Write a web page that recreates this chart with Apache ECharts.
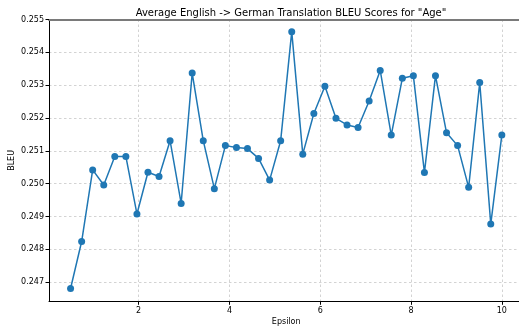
<!DOCTYPE html>
<html><head><meta charset="utf-8">
<script src="https://cdn.jsdelivr.net/npm/echarts@6/dist/echarts.min.js"></script>
<style>html,body{margin:0;padding:0;background:#fff}#c{width:519px;height:330px}</style>
</head><body><div id="c"></div>
<script>
const epsilon = [0.5, 0.744, 0.987, 1.231, 1.474, 1.718, 1.962, 2.205, 2.449, 2.692,
  2.936, 3.179, 3.423, 3.667, 3.910, 4.154, 4.397, 4.641, 4.885, 5.128,
  5.372, 5.615, 5.859, 6.103, 6.346, 6.590, 6.833, 7.077, 7.321, 7.564,
  7.808, 8.051, 8.295, 8.538, 8.782, 9.026, 9.269, 9.513, 9.756, 10.0];
const bleu = [0.24681, 0.24824, 0.25042, 0.24996, 0.25083, 0.25083, 0.24908, 0.25035, 0.25022, 0.25131,
  0.24940, 0.25337, 0.25131, 0.24985, 0.25116, 0.25110, 0.25107, 0.25077, 0.25011, 0.25131,
  0.25463, 0.25090, 0.25214, 0.25297, 0.25199, 0.25179, 0.25171, 0.25252, 0.25345, 0.25148,
  0.25321, 0.25329, 0.25034, 0.25329, 0.25155, 0.25116, 0.24989, 0.25308, 0.24877, 0.25148];
const xTicks = [2, 4, 6, 8, 10];
const yTicks = [0.247, 0.248, 0.249, 0.250, 0.251, 0.252, 0.253, 0.254, 0.255];
const titleText = 'Average English -> German Translation BLEU Scores for "Age"';

const font = 'DejaVu Sans';
const gridLine = {show: true, lineStyle: {color: '#c8c8c8', type: [2.5, 2.5], width: 0.8}};
const chart = echarts.init(document.getElementById('c'), null, {renderer: 'canvas'});
chart.setOption({
  animation: false,
  title: {text: titleText, left: 286, top: 3, textAlign: 'center',
    textStyle: {fontFamily: font, fontSize: 10, fontWeight: 'normal', color: '#000'}},
  grid: {left: 49, top: 19.5, width: 474.4, height: 281.8, containLabel: false, outerBoundsMode: 'none'},
  xAxis: [{
    type: 'value', min: 0.025, max: 10.475,
    name: 'Epsilon', nameLocation: 'middle', nameGap: 17, nameMoveOverlap: false,
    nameTextStyle: {fontFamily: font, fontSize: 8, color: '#000'},
    axisLine: {show: true, onZero: false, lineStyle: {color: '#000', width: 1}},
    axisTick: {show: true, length: 3.5, customValues: xTicks, lineStyle: {color: '#000'}},
    axisLabel: {customValues: xTicks, fontFamily: font, fontSize: 8, color: '#000', margin: 6},
    splitLine: gridLine
  }, {
    type: 'value', position: 'top', min: 0.025, max: 10.475,
    axisLine: {show: true, lineStyle: {color: '#7a7a7a', width: 2}},
    axisTick: {show: false}, axisLabel: {show: false}, splitLine: {show: false}
  }],
  yAxis: {
    type: 'value', min: 0.24642, max: 0.255,
    name: 'BLEU', nameLocation: 'middle', nameGap: 33, nameMoveOverlap: false,
    nameTextStyle: {fontFamily: font, fontSize: 8, color: '#000'},
    axisLine: {show: true, onZero: false, lineStyle: {color: '#000', width: 1}},
    axisTick: {show: true, length: 3.5, customValues: yTicks, lineStyle: {color: '#000'}},
    axisLabel: {customValues: yTicks, fontFamily: font, fontSize: 8, color: '#000', margin: 5,
      formatter: v => v.toFixed(3)},
    splitLine: gridLine
  },
  series: [{
    type: 'line', data: epsilon.map((x, i) => [x, bleu[i]]),
    symbol: 'circle', symbolSize: 7, showSymbol: true,
    lineStyle: {color: '#1f77b4', width: 1.5},
    itemStyle: {color: '#1f77b4'}
  }]
});
</script></body></html>
